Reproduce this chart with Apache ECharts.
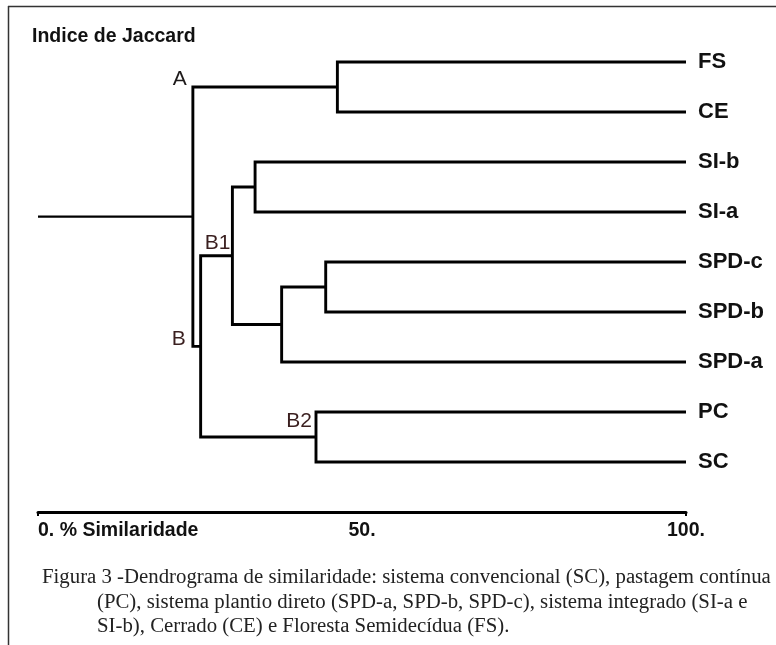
<!DOCTYPE html>
<html>
<head>
<meta charset="utf-8">
<script src="https://cdn.jsdelivr.net/npm/echarts@6/dist/echarts.min.js"></script>
<style>html,body{margin:0;padding:0;background:#fff}#c{width:776px;height:645px}</style>
</head>
<body>
<div id="c"></div>
<script>
// ---- data ----
const leaves = ['FS', 'CE', 'SI-b', 'SI-a', 'SPD-c', 'SPD-b', 'SPD-a', 'PC', 'SC'];
// merge k joins mergeLeft[k] and mergeRight[k] at similarity mergeSim[k] (node id 'm'+k)
const mergeLeft  = ['FS', 'SI-b', 'SPD-c', 'm2', 'm1', 'PC', 'm4', 'm0'];
const mergeRight = ['CE', 'SI-a', 'SPD-b', 'SPD-a', 'm3', 'SC', 'm5', 'm6'];
const mergeSim   = [46.2, 33.5, 44.4, 37.6, 30.0, 42.9, 25.1, 23.9];
const clusterNames = ['A', 'B', 'B1', 'B2'];
const clusterNodes = ['m0', 'm6', 'm4', 'm5'];
const tickValues = [0, 50, 100];
const tickLabels = ['0. % Similaridade', '50.', '100.'];
const titleText = 'Indice de Jaccard';
const captionLines = [
  'Figura 3 -Dendrograma de similaridade: sistema convencional (SC), pastagem contínua',
  '(PC), sistema plantio direto (SPD-a, SPD-b, SPD-c), sistema integrado (SI-a e',
  'SI-b), Cerrado (CE) e Floresta Semidecídua (FS).'
];

// ---- build tree geometry (data units) ----
const pos = {};
leaves.forEach((n, i) => { pos[n] = { x: 100, y: i }; });
const branchData = [];
mergeSim.forEach((s, k) => {
  const l = pos[mergeLeft[k]], r = pos[mergeRight[k]];
  pos['m' + k] = { x: s, y: (l.y + r.y) / 2 };
  l.parentX = s; r.parentX = s;
  branchData.push([s, l.x, l.y, r.x, r.y]);
});
const root = pos['m' + (mergeSim.length - 1)];
const rootLine = [[0, root.y], [root.x, root.y]];

// label anchors: 'left' = start of branch (parent x), 'right' = node itself
const labelStyle = {
  A:  { anchor: 'left',  dx: -6, dy: -7.5, color: '#1e1a1a' },
  B:  { anchor: 'left',  dx: -7, dy: -7, color: '#3a1f1f' },
  B1: { anchor: 'right', dx: -2, dy: -12.5, color: '#3a1f1f' },
  B2: { anchor: 'right', dx: -4, dy: -15.5, color: '#3a1f1f' }
};
const labelData = clusterNames.map((name, i) => {
  const p = pos[clusterNodes[i]];
  const st = labelStyle[name];
  return { name: name, value: [st.anchor === 'left' ? p.parentX : p.x, p.y] };
});

const chart = echarts.init(document.getElementById('c'), null, { renderer: 'canvas' });
const SANS = "'Liberation Sans', Arial, sans-serif";
const SERIF = "'Liberation Serif', 'Times New Roman', serif";

const graphics = [
  { type: 'line', shape: { x1: 8.5, y1: 6, x2: 8.5, y2: 645 }, style: { stroke: '#333', lineWidth: 1.5 } },
  { type: 'line', shape: { x1: 8, y1: 6.5, x2: 776, y2: 6.5 }, style: { stroke: '#333', lineWidth: 1.5 } },
  { type: 'text', x: 32, y: 37, style: { text: titleText, fill: '#111', font: 'bold 19.5px ' + SANS, verticalAlign: 'middle' } }
];
const capX = [42, 97, 97];
const capY = [578, 603, 627];
captionLines.forEach((t, i) => {
  graphics.push({ type: 'text', x: capX[i], y: capY[i],
    style: { text: t, fill: '#222', font: '20.8px ' + SERIF, verticalAlign: 'middle' } });
});

chart.setOption({
  animation: false,
  backgroundColor: '#fff',
  grid: { left: 38, right: 90, top: 12, bottom: 133 },
  xAxis: {
    type: 'value', min: 0, max: 100, interval: 50,
    axisLine: { show: true, onZero: false, lineStyle: { color: '#000', width: 3 } },
    axisTick: { show: true, customValues: [0, 100], length: 4, lineStyle: { color: '#000', width: 2 } },
    splitLine: { show: false },
    axisLabel: {
      margin: 9, fontSize: 19.5, fontWeight: 'bold', color: '#111', fontFamily: SANS,
      alignMinLabel: 'left',
      formatter: v => { const i = tickValues.indexOf(v); return i >= 0 ? tickLabels[i] : ''; }
    }
  },
  yAxis: {
    type: 'value', min: -1, max: 9, interval: 1, inverse: true, position: 'right',
    axisLine: { show: false }, axisTick: { show: false }, splitLine: { show: false },
    axisLabel: {
      margin: 12, fontSize: 22, fontWeight: 'bold', color: '#111', fontFamily: SANS,
      formatter: v => (leaves[v] !== undefined ? leaves[v] : '')
    }
  },
  graphic: graphics,
  series: [
    {
      type: 'custom', clip: false, silent: true,
      dimensions: ['m', 'lx', 'ly', 'rx', 'ry'],
      encode: { x: [0, 1, 3], y: [2, 4] },
      data: branchData,
      renderItem: (params, api) => {
        const m = api.value(0), lx = api.value(1), ly = api.value(2), rx = api.value(3), ry = api.value(4);
        const pts = [api.coord([lx, ly]), api.coord([m, ly]), api.coord([m, ry]), api.coord([rx, ry])];
        return { type: 'polyline', shape: { points: pts }, style: { stroke: '#000', lineWidth: 2.9, fill: null, lineJoin: 'miter' } };
      }
    },
    {
      type: 'line', data: rootLine, symbol: 'none', silent: true,
      lineStyle: { color: '#000', width: 2.2 }
    },
    {
      type: 'custom', clip: false, silent: true,
      data: labelData,
      renderItem: (params, api) => {
        const d = labelData[params.dataIndex];
        const st = labelStyle[d.name];
        const c = api.coord([api.value(0), api.value(1)]);
        return { type: 'text', x: c[0] + st.dx, y: c[1] + st.dy,
          style: { text: d.name, fill: st.color, font: '21px ' + SANS, align: 'right', verticalAlign: 'middle' } };
      }
    }
  ]
});
</script>
</body>
</html>
